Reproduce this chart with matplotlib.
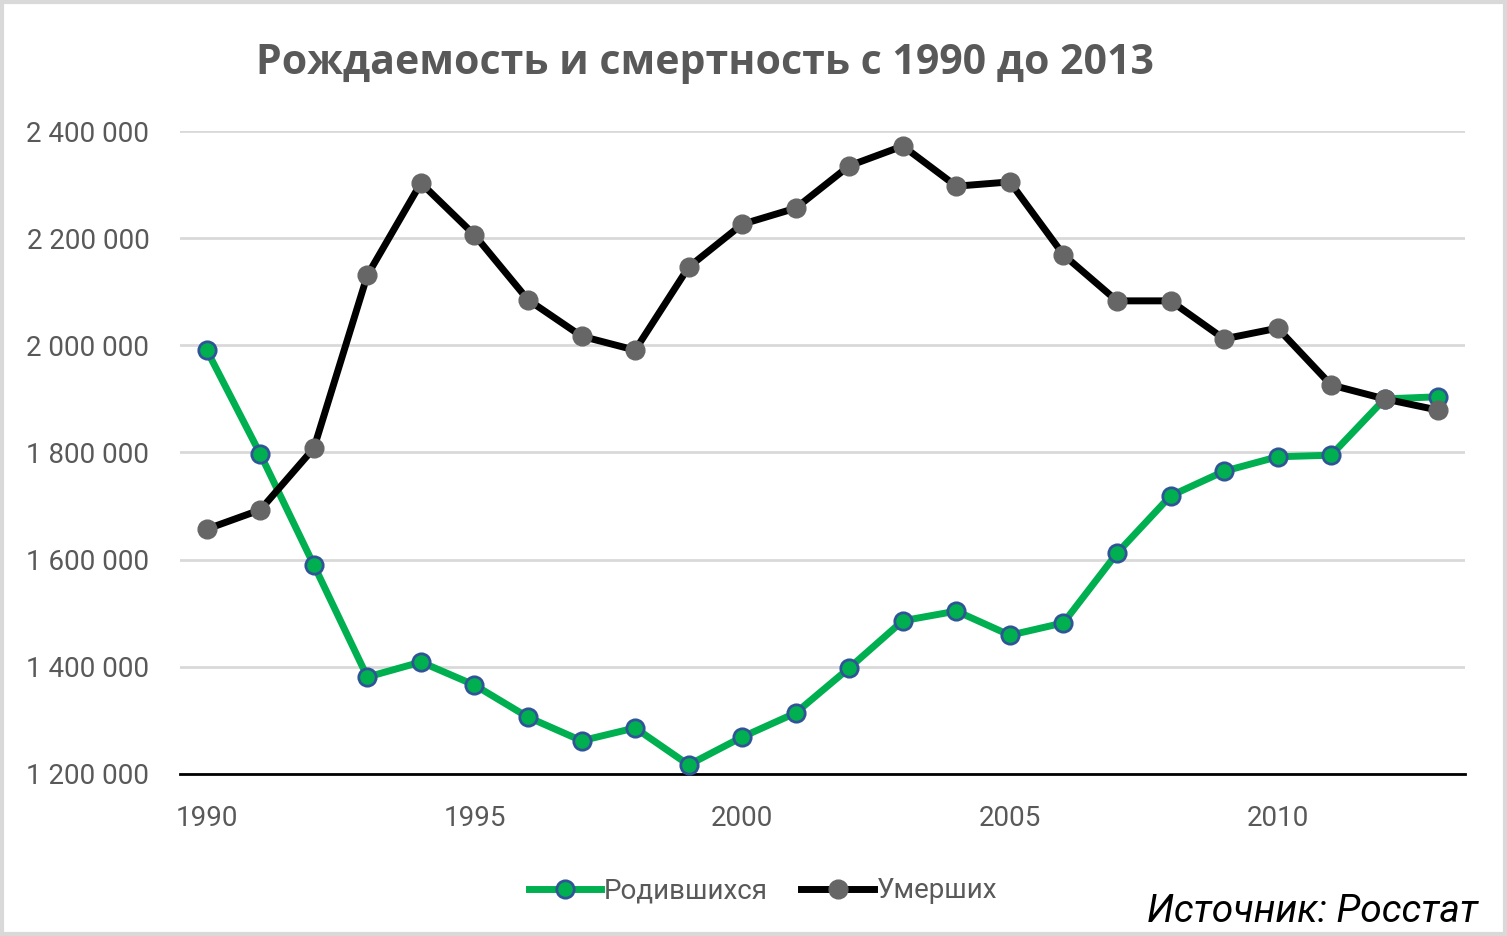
import matplotlib.pyplot as plt
from matplotlib.patches import Rectangle
from matplotlib.lines import Line2D

years = list(range(1990, 2014))
births = [1991000, 1797000, 1590000, 1381000, 1409000, 1366000, 1306000, 1262000,
          1286000, 1217000, 1269000, 1314000, 1398000, 1486000, 1504000, 1459000,
          1482000, 1612000, 1719000, 1765000, 1792000, 1795000, 1900000, 1904000]
deaths = [1657000, 1693000, 1808000, 2131000, 2303000, 2206000, 2085000, 2017000,
          1991000, 2146000, 2226000, 2256000, 2335000, 2372000, 2297000, 2305000,
          2169000, 2083000, 2083000, 2012000, 2032000, 1926000, 1900000, 1879000]
y_ticks = [1200000, 1400000, 1600000, 1800000, 2000000, 2200000, 2400000]
x_ticks = [1990, 1995, 2000, 2005, 2010]

narrow = ['Roboto', 'DejaVu Sans']
grey_txt = '#595959'

fig = plt.figure(figsize=(15.07, 9.36), dpi=100)
ax = fig.add_axes([180 / 1507, 1 - 774 / 936, (1465 - 180) / 1507, (774 - 131) / 936])

ax.plot(years, births, color='#00B050', lw=5, marker='o', ms=12.5,
        mfc='#00B050', mec='#2F5597', mew=2, clip_on=False, zorder=3,
        label='Родившихся')
ax.plot(years, deaths, color='black', lw=5, marker='o', ms=13.5,
        mfc='#666666', mec='#666666', mew=1, clip_on=False, zorder=4,
        label='Умерших')

ax.set_xlim(1989.5, 2013.5)
ax.set_ylim(1200000, 2400000)
ax.set_yticks(y_ticks)
ax.set_yticklabels([f'{v:,}'.replace(',', ' ') for v in y_ticks])
ax.set_xticks(x_ticks)
ax.set_xticklabels([str(v) for v in x_ticks])
for lab in ax.get_xticklabels() + ax.get_yticklabels():
    lab.set_family(narrow)
    lab.set_fontsize(20)
    lab.set_color(grey_txt)
ax.tick_params(axis='x', length=0, pad=22)
ax.tick_params(axis='y', length=0, pad=22)
ax.grid(axis='y', color='#D9D9D9', lw=2)
ax.set_axisbelow(True)
for s in ['top', 'right', 'left']:
    ax.spines[s].set_visible(False)
ax.spines['bottom'].set_color('black')
ax.spines['bottom'].set_linewidth(2)
ax.spines['bottom'].set_zorder(2.5)

fig.text(705 / 1507, 1 - 64 / 936, 'Рождаемость и смертность с 1990 до 2013',
         ha='center', va='center', fontsize=29.5, fontweight='bold',
         color=grey_txt, family=['Open Sans', 'DejaVu Sans'])

handles = [Line2D([], [], color='#00B050', lw=5, marker='o', ms=12.5, mfc='#00B050',
                  mec='#2F5597', mew=2),
           Line2D([], [], color='black', lw=5, marker='o', ms=13.5, mfc='#666666',
                  mec='#666666')]
fig.legend(handles, ['Родившихся', 'Умерших'], loc='center',
           bbox_to_anchor=(763 / 1507, 1 - 891 / 936), ncol=2, frameon=False,
           handlelength=2.6, handletextpad=0.1, columnspacing=1.2,
           prop={'family': narrow, 'size': 20}, labelcolor=grey_txt)

fig.text(1478 / 1507, 1 - 912 / 936, 'Источник: Росстат', ha='right', va='center',
         fontsize=28, style='italic', color='black', family=narrow)

fig.patches.append(Rectangle((0.0015, 0.002), 0.997, 0.996, transform=fig.transFigure,
                             fill=False, ec='#D9D9D9', lw=3))

fig.savefig('out.png', dpi=100)
